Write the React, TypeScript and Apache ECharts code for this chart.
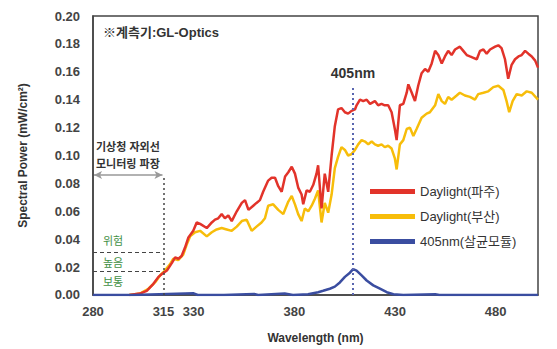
import React, { useEffect, useRef } from "react";
import * as echarts from "echarts";

// Daylight (파주) : wavelength (nm), spectral power (mW/cm²)
const pajuWl = [298, 303.3, 306.7, 310.0, 312.5, 314.2, 316.7, 319.2, 320.8, 322.4, 324.0, 325.7, 327.3, 329.8, 331.5, 333.2, 336.5, 339.0, 340.6, 342.2, 343.9, 345.5, 347.2, 348.9, 351.4, 353.9, 355.5, 357.2, 359.6, 361.2, 362.9, 364.5, 367.0, 368.7, 370.4, 372.0, 373.7, 375.4, 377.0, 378.7, 380.3, 381.9, 383.6, 384.4, 386.1, 387.7, 389.4, 391.0, 391.8, 393.5, 395.1, 396.8, 398.5, 400.1, 401.7, 403.4, 405.1, 406.7, 408.4, 410.1, 410.9, 412.6, 414.2, 415.9, 417.6, 420.0, 421.6, 423.3, 424.9, 426.6, 428.3, 429.9, 430.8, 432.4, 434.1, 435.8, 436.6, 438.3, 439.9, 441.5, 443.2, 444.9, 446.5, 448.2, 449.9, 451.5, 453.2, 454.8, 456.4, 458.1, 459.8, 462.2, 463.9, 465.6, 467.2, 468.9, 470.6, 472.2, 473.9, 475.5, 477.2, 479.7, 481.3, 482.9, 484.6, 486.2, 487.9, 489.6, 491.3, 492.9, 494.6, 496.2, 497.9, 499.6, 501.0];
const pajuVal = [0, 0.001, 0.003, 0.008, 0.013, 0.015, 0.0175, 0.023, 0.027, 0.026, 0.028, 0.034, 0.041, 0.046, 0.052, 0.051, 0.048, 0.052, 0.054, 0.055, 0.058, 0.055, 0.057, 0.053, 0.060, 0.066, 0.068, 0.061, 0.064, 0.066, 0.068, 0.074, 0.082, 0.084, 0.084, 0.078, 0.074, 0.085, 0.088, 0.092, 0.087, 0.077, 0.072, 0.065, 0.075, 0.074, 0.079, 0.087, 0.093, 0.062, 0.087, 0.074, 0.100, 0.121, 0.133, 0.134, 0.131, 0.130, 0.132, 0.133, 0.136, 0.140, 0.139, 0.140, 0.137, 0.139, 0.136, 0.137, 0.136, 0.136, 0.131, 0.119, 0.111, 0.136, 0.137, 0.145, 0.151, 0.145, 0.139, 0.150, 0.159, 0.162, 0.160, 0.166, 0.175, 0.172, 0.166, 0.171, 0.175, 0.172, 0.176, 0.178, 0.175, 0.172, 0.171, 0.170, 0.169, 0.175, 0.176, 0.173, 0.176, 0.178, 0.179, 0.177, 0.169, 0.155, 0.165, 0.169, 0.171, 0.172, 0.175, 0.173, 0.171, 0.168, 0.163];

// Daylight (부산)
const busanWl = [298, 303.3, 307.5, 310.8, 313.3, 315.7, 318.2, 319.9, 322.3, 324.8, 326.5, 328.2, 330.7, 333.2, 336.5, 339.0, 341.4, 343.9, 346.4, 348.9, 351.4, 353.9, 356.3, 358.8, 361.2, 363.7, 365.4, 367.0, 369.5, 372.0, 374.5, 377.0, 378.7, 380.3, 381.9, 383.6, 385.2, 386.9, 388.6, 390.2, 391.8, 393.5, 395.1, 396.8, 398.5, 400.1, 401.7, 403.4, 405.1, 406.7, 408.4, 410.1, 411.7, 413.4, 415.1, 416.7, 418.4, 420.0, 421.6, 423.3, 424.9, 426.6, 428.3, 429.9, 430.8, 432.4, 434.1, 435.8, 437.4, 439.1, 440.7, 443.2, 445.7, 447.3, 449.9, 451.5, 453.2, 454.8, 456.4, 458.1, 460.6, 462.2, 464.7, 467.2, 469.7, 471.3, 473.9, 476.3, 478.8, 481.3, 483.8, 485.4, 486.7, 488.4, 490.4, 492.9, 495.4, 497.9, 501.0];
const busanVal = [0, 0.001, 0.0045, 0.009, 0.014, 0.0175, 0.022, 0.026, 0.025, 0.029, 0.036, 0.042, 0.045, 0.046, 0.042, 0.045, 0.047, 0.048, 0.047, 0.046, 0.049, 0.053, 0.054, 0.046, 0.049, 0.052, 0.055, 0.064, 0.065, 0.061, 0.058, 0.067, 0.071, 0.065, 0.058, 0.053, 0.062, 0.060, 0.064, 0.069, 0.075, 0.052, 0.066, 0.059, 0.072, 0.091, 0.099, 0.106, 0.104, 0.100, 0.101, 0.104, 0.108, 0.111, 0.110, 0.108, 0.110, 0.108, 0.107, 0.108, 0.106, 0.107, 0.105, 0.098, 0.090, 0.108, 0.111, 0.119, 0.120, 0.114, 0.119, 0.127, 0.130, 0.131, 0.136, 0.144, 0.139, 0.137, 0.142, 0.140, 0.143, 0.145, 0.143, 0.142, 0.140, 0.144, 0.145, 0.146, 0.149, 0.150, 0.147, 0.139, 0.131, 0.139, 0.144, 0.143, 0.146, 0.145, 0.140];

// 405nm (살균모듈)
const moduleWl = [280, 300, 330, 332, 345, 360, 362, 375.2, 379.3, 386.8, 391.8, 394.3, 397.6, 400.1, 402.6, 405.1, 407.6, 409.2, 410.9, 413.4, 415.9, 419.2, 422.5, 425.9, 429.2, 434.1, 450, 452, 501];
const moduleVal = [0, 0, 0.0012, 0, 0, 0.0008, 0, 0.001, 0, 0.0005, 0.002, 0.003, 0.0045, 0.006, 0.009, 0.013, 0.016, 0.0186, 0.0175, 0.014, 0.0104, 0.0069, 0.0045, 0.002, 0.0005, 0, 0.0005, 0, 0];

const xTickValues = [280, 315, 330, 380, 430, 480];
const seriesNames = ["Daylight(파주)", "Daylight(부산)", "405nm(살균모듈)"];
const peakLineNm = 409.1;
const uvBandStart = 280;
const uvBandEnd = 315;
const levelLines = [0.0305, 0.017];

const FONT = "'Liberation Sans', Arial, 'Noto Sans CJK KR', sans-serif";

const zip = (a: number[], b: number[]) => a.map((v, i) => [v, b[i]]);

export default function App() {
  const ref = useRef<HTMLDivElement>(null);
  useEffect(() => {
    document.body.style.margin = "0";
    if (!ref.current) return;
    const chart = echarts.init(ref.current, null, { renderer: "svg" });
    const option: any = {
      animation: false,
      backgroundColor: "#fff",
      textStyle: { fontFamily: FONT },
      grid: {
        left: 93,
        right: 19,
        top: 16,
        bottom: 51,
        show: true,
        borderColor: "#444",
        borderWidth: 1.5,
      },
      legend: {
        orient: "vertical",
        left: 365,
        top: 180,
        itemWidth: 45,
        itemHeight: 5,
        itemGap: 12,
        icon: "rect",
        textStyle: { fontSize: 13, color: "#333", fontFamily: FONT },
        data: seriesNames,
      },
      xAxis: {
        type: "value",
        min: 280,
        max: 501,
        name: "Wavelength (nm)",
        nameLocation: "middle",
        nameGap: 37,
        nameTextStyle: { fontSize: 12, fontWeight: "bold", color: "#333", fontFamily: FONT },
        axisLine: { show: true, lineStyle: { color: "#444", width: 1.5 } },
        axisTick: { show: false },
        splitLine: { show: false },
        axisLabel: {
          customValues: xTickValues,
          fontSize: 13,
          fontWeight: "bold",
          color: "#444",
          margin: 10,
          fontFamily: FONT,
        },
      },
      yAxis: {
        type: "value",
        min: 0,
        max: 0.2,
        interval: 0.02,
        name: "Spectral Power (mW/cm²)",
        nameLocation: "middle",
        nameGap: 64,
        nameTextStyle: { fontSize: 12, fontWeight: "bold", color: "#333", fontFamily: FONT },
        axisLine: { show: true, lineStyle: { color: "#444", width: 1.5 } },
        axisTick: { show: false },
        splitLine: { show: false },
        axisLabel: {
          formatter: (v: number) => v.toFixed(2),
          fontSize: 13,
          fontWeight: "bold",
          color: "#444",
          margin: 13,
          fontFamily: FONT,
        },
      },
      series: [
        {
          name: seriesNames[1],
          type: "line",
          data: zip(busanWl, busanVal),
          showSymbol: false,
          color: "#f7bd0a",
          lineStyle: { width: 2.5, color: "#f7bd0a" },
          z: 2,
        },
        {
          name: seriesNames[0],
          type: "line",
          data: zip(pajuWl, pajuVal),
          showSymbol: false,
          color: "#e2332a",
          lineStyle: { width: 2.5, color: "#e2332a" },
          z: 3,
          markLine: {
            silent: true,
            symbol: ["none", "none"],
            label: { show: false },
            data: [
              [
                { coord: [uvBandEnd, 0], lineStyle: { color: "#444", type: [2, 3], width: 1.5 } },
                { coord: [uvBandEnd, 0.086] },
              ],
              ...levelLines.map((v) => [
                { coord: [uvBandStart, v], lineStyle: { color: "#444", type: [4, 3], width: 1.2 } },
                { coord: [uvBandEnd, v] },
              ]),
              [
                {
                  coord: [uvBandStart + 0.5, 0.086],
                  symbol: "arrow",
                  symbolSize: [6, 8],
                  lineStyle: { color: "#999", type: "solid", width: 1.5 },
                },
                { coord: [uvBandEnd - 0.5, 0.086], symbol: "arrow", symbolSize: [6, 8] },
              ],
            ],
          },
        },
        {
          name: seriesNames[2],
          type: "line",
          data: zip(moduleWl, moduleVal),
          showSymbol: false,
          color: "#3a4da0",
          lineStyle: { width: 2.5, color: "#3a4da0" },
          z: 4,
          markLine: {
            silent: true,
            symbol: ["none", "none"],
            lineStyle: { color: "#5a66b0", type: [2, 3], width: 2 },
            data: [
              [
                { coord: [peakLineNm, 0] },
                {
                  coord: [peakLineNm, 0.15],
                  label: {
                    show: true,
                    position: "end",
                    formatter: "405nm",
                    fontSize: 14,
                    fontWeight: "bold",
                    color: "#333",
                    distance: 6,
                    fontFamily: FONT,
                  },
                },
              ],
            ],
          },
        },
      ],
      graphic: [
        {
          type: "text",
          left: 103,
          top: 26,
          style: { text: "※계측기:GL-Optics", fontSize: 13, fontWeight: "bold", fill: "#333", fontFamily: FONT },
        },
        {
          type: "text",
          left: 96,
          top: 138,
          style: {
            text: "기상청 자외선\n모니터링 파장",
            fontSize: 11,
            lineHeight: 17,
            fontWeight: "bold",
            fill: "#333",
            fontFamily: FONT,
          },
        },
        {
          type: "text",
          left: 103,
          top: 235,
          style: { text: "위험", fontSize: 11, fill: "#3f8f45", fontFamily: FONT },
        },
        {
          type: "text",
          left: 103,
          top: 257,
          style: { text: "높음", fontSize: 11, fill: "#3f8f45", fontFamily: FONT },
        },
        {
          type: "text",
          left: 103,
          top: 276,
          style: { text: "보통", fontSize: 11, fill: "#3f8f45", fontFamily: FONT },
        },
      ],
    };
    chart.setOption(option);
    return () => chart.dispose();
  }, []);
  return <div ref={ref} style={{ width: 557, height: 349 }} />;
}
